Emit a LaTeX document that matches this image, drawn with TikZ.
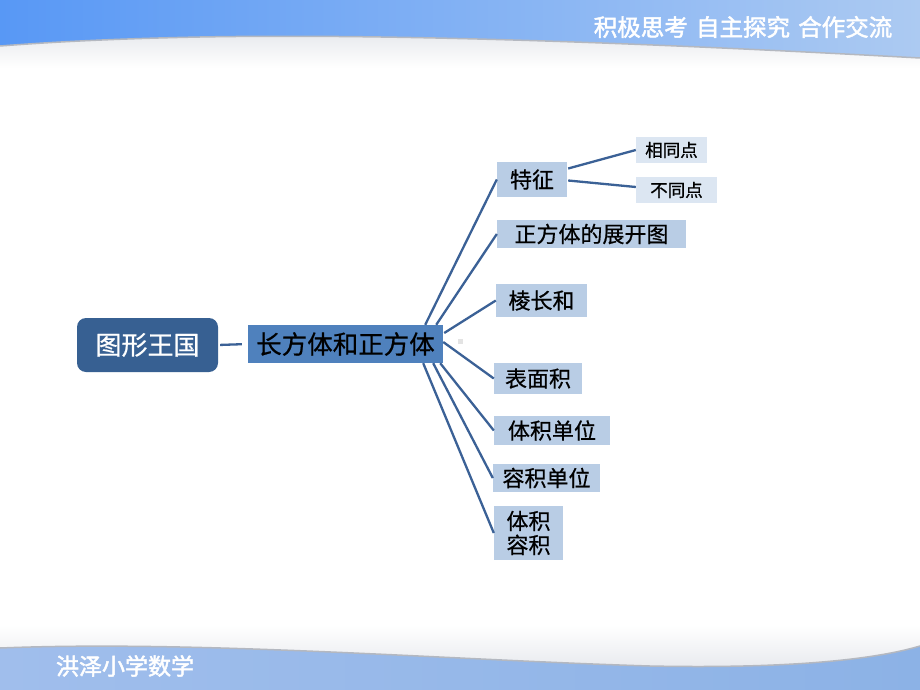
\documentclass[tikz,border=0pt]{standalone}
\usepackage{fontspec}
\newfontfamily\cjk[FakeBold=0.6]{Noto Sans CJK SC}
\newfontfamily\cjkhead[FakeBold=2]{Noto Sans CJK SC}
\usetikzlibrary{calc}
\definecolor{hdrL}{RGB}{88,152,245}
\definecolor{hdrR}{RGB}{172,202,242}
\definecolor{ftrL}{RGB}{160,190,236}
\definecolor{ftrM}{RGB}{198,215,240}
\definecolor{ftrR}{RGB}{140,178,230}
\definecolor{waveline}{RGB}{180,184,192}
\definecolor{texture}{RGB}{232,234,238}
\definecolor{rootfill}{RGB}{55,96,146}
\definecolor{mainfill}{RGB}{79,129,189}
\definecolor{kidfill}{RGB}{185,205,229}
\definecolor{leaffill}{RGB}{220,230,242}
\definecolor{linkcol}{RGB}{59,97,150}
\tikzset{
  rootbox/.style={fill=rootfill, rounded corners=9pt, inner sep=0pt, text=white, font=\cjk\fontsize{26}{30}\selectfont},
  mainbox/.style={fill=mainfill, inner sep=0pt, text=black, font=\cjk\fontsize{25.5}{30}\selectfont},
  kidbox/.style={fill=kidfill, inner sep=0pt, text=black, font=\cjk\fontsize{22}{26}\selectfont},
  leafbox/.style={fill=leaffill, inner sep=0pt, text=black, font=\cjk\fontsize{17.5}{20}\selectfont},
  link/.style={draw=linkcol, line width=2.3pt},
  bandtext/.style={text=white, inner sep=0pt}
}
\begin{document}
\begin{tikzpicture}[x=1pt,y=-1pt]
\useasboundingbox (0,0) rectangle (920,690);
\fill[white] (0,0) rectangle (920,690);
% header
\shade[top color=texture, bottom color=white] (0,34) rectangle (920,68);
\shade[left color=hdrL, right color=hdrR] (0,0) -- (920,0) -- (920,58) .. controls (700,46) and (420,33) .. (200,37) .. controls (100,39) and (40,43) .. (0,46) -- cycle;
\draw[waveline, line width=1.5pt] (920,58) .. controls (700,46) and (420,33) .. (200,37) .. controls (100,39) and (40,43) .. (0,46);
\node[bandtext, font=\cjkhead\fontsize{23.5}{26}\selectfont] (motto) at (743,27) {积极思考\hspace{0.35em}自主探究\hspace{0.35em}合作交流};
% footer
\shade[top color=white, bottom color=texture] (0,625) rectangle (920,668);
\shade[left color=ftrL, middle color=ftrM, right color=ftrR] (0,648) .. controls (200,640) and (450,660) .. (650,666) .. controls (800,669) and (880,658) .. (920,646) -- (920,690) -- (0,690) -- cycle;
\draw[waveline, line width=1.5pt] (0,648) .. controls (200,640) and (450,660) .. (650,666) .. controls (800,669) and (880,658) .. (920,646);
\node[bandtext, font=\cjkhead\fontsize{23}{26}\selectfont] (school) at (125,666) {洪泽小学数学};
% nodes
\node[rootbox, minimum width=141pt, minimum height=54pt] (root) at (147.5,345) {图形王国};
\node[mainbox, minimum width=195pt, minimum height=38pt] (main) at (345.5,344) {长方体和正方体};
\node[kidbox, minimum width=70pt, minimum height=35pt] (tz) at (532,179.5) {特征};
\node[kidbox, minimum width=189pt, minimum height=28pt] (zk) at (591.5,234) {正方体的展开图};
\node[kidbox, minimum width=91pt, minimum height=33pt] (lc) at (541.5,300.5) {棱长和};
\node[kidbox, minimum width=88pt, minimum height=31pt] (bm) at (538,378.5) {表面积};
\node[kidbox, minimum width=116pt, minimum height=29pt] (tj) at (552,430.5) {体积单位};
\node[kidbox, minimum width=107pt, minimum height=28pt] (rj) at (546.5,478) {容积单位};
\node[kidbox, minimum width=69pt, minimum height=54pt, align=center] (tr) at (528.5,533) {体积\\[-2pt]容积};
\node[leafbox, minimum width=71pt, minimum height=26pt] (xt) at (671.5,150) {相同点};
\node[leafbox, minimum width=81pt, minimum height=26pt] (bt) at (676.5,190) {不同点};
\fill[gray!22] (458,339) rectangle (463,344);
% connectors
\draw[link, shorten <=2pt, shorten >=6pt] (root.east) -- (main.west);
\draw[link] ($(main.north east)+(-18,0)$) -- (tz.west);
\draw[link] ($(main.north east)+(-7,0)$) -- (zk.west);
\draw[link] ($(main.east)+(1,-11)$) -- (lc.west);
\draw[link] ($(main.east)+(0,-2)$) -- (bm.west);
\draw[link] ($(main.south east)+(-3,0)$) -- (tj.west);
\draw[link] ($(main.south east)+(-10,0)$) -- (rj.west);
\draw[link] ($(main.south east)+(-20,0)$) -- (tr.west);
\draw[link] ($(tz.east)+(1,-11)$) -- (xt.west);
\draw[link] ($(tz.east)+(1,1)$) -- ($(bt.west)+(0,-3)$);
\end{tikzpicture}
\end{document}
